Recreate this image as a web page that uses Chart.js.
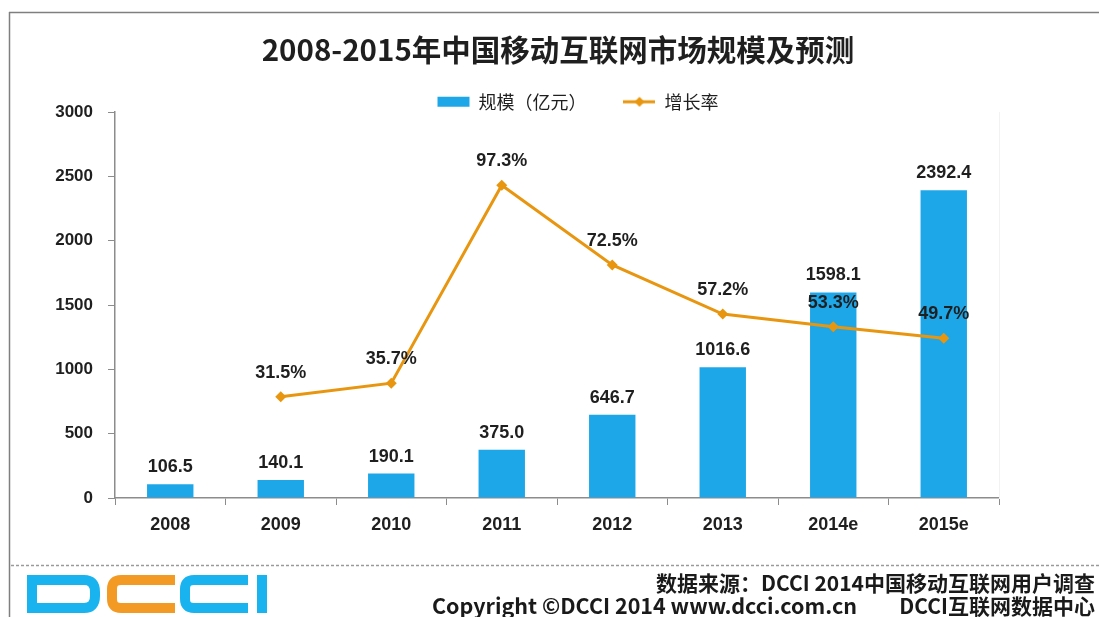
<!DOCTYPE html>
<html><head><meta charset="utf-8">
<script src="https://cdn.jsdelivr.net/npm/chart.js@4.4.1/dist/chart.umd.min.js"></script>
<style>
html,body{margin:0;padding:0;background:#fff;}
#wrap{position:relative;width:1099px;height:617px;overflow:hidden;background:#fff;}
#c{position:absolute;left:0;top:0;}
.deco{position:absolute;left:0;top:0;}
.foot{position:absolute;font-family:"Noto Sans CJK SC","Noto Sans",sans-serif;font-weight:bold;font-size:21px;color:#1a1a1a;white-space:nowrap;line-height:24px;}
</style></head>
<body><div id="wrap">
<svg class="deco" width="1099" height="617">
 <line x1="9" y1="12.5" x2="1099" y2="12.5" stroke="#7f7f7f" stroke-width="1.5"/>
 <line x1="9.5" y1="12" x2="9.5" y2="617" stroke="#7f7f7f" stroke-width="1.5"/>
 <line x1="11" y1="565.5" x2="1099" y2="565.5" stroke="#9a9a9a" stroke-width="1.5" stroke-dasharray="3,2"/>
 <g fill="none" stroke-width="10">
  <path d="M32,580 H84 Q95,580 95,592 V596 Q95,608 84,608 H32 Z" stroke="#19b4ef"/>
  <path d="M175,580 H121 Q112,580 112,589 V599 Q112,608 121,608 H175" stroke="#f39a25"/>
  <path d="M248,580 H194 Q185,580 185,589 V599 Q185,608 194,608 H248" stroke="#19b4ef"/>
 </g>
 <rect x="257" y="575" width="10" height="38" fill="#19b4ef"/>
</svg>
<canvas id="c" width="1099" height="617"></canvas>
<div class="foot" style="right:4px;top:570px;">数据来源：DCCI 2014中国移动互联网用户调查</div>
<div class="foot" style="left:432px;top:593px;font-size:21.5px;">Copyright ©DCCI 2014 www.dcci.com.cn</div>
<div class="foot" style="right:4px;top:593px;">DCCI互联网数据中心</div>
</div>
<script>
const categories = ['2008','2009','2010','2011','2012','2013','2014e','2015e'];
const marketSize = [106.5,140.1,190.1,375.0,646.7,1016.6,1598.1,2392.4];
const growthRate = [null,31.5,35.7,97.3,72.5,57.2,53.3,49.7];
const sizeTicks = [0,500,1000,1500,2000,2500,3000];
const titleText = '2008-2015年中国移动互联网市场规模及预测';
const seriesNames = ['规模（亿元）','增长率'];

const BLUE = '#1ea7e8';
const ORANGE = '#e8960f';
const TEXT = '#1f1f1f';
const NUMFONT = '"Liberation Sans", Arial, sans-serif';
const CJKFONT = '"Noto Sans CJK SC", "Noto Sans", sans-serif';

// legend icon for the line series (line with diamond)
const icon = document.createElement('canvas');
icon.width = 32; icon.height = 12;
(function(){
  const g = icon.getContext('2d');
  g.strokeStyle = ORANGE; g.lineWidth = 3;
  g.beginPath(); g.moveTo(0,6); g.lineTo(32,6); g.stroke();
  g.fillStyle = ORANGE;
  g.beginPath(); g.moveTo(16,1); g.lineTo(21,6); g.lineTo(16,11); g.lineTo(11,6); g.closePath(); g.fill();
})();

const valueLabels = {
  id: 'valueLabels',
  afterDatasetsDraw(chart) {
    const ctx = chart.ctx;
    ctx.save();
    ctx.font = 'bold 18px ' + NUMFONT;
    ctx.fillStyle = TEXT;
    ctx.textAlign = 'center';
    ctx.textBaseline = 'middle';
    chart.getDatasetMeta(0).data.forEach((el, i) => {
      ctx.fillText(marketSize[i].toFixed(1), el.x, el.y - 17);
    });
    chart.getDatasetMeta(1).data.forEach((el, i) => {
      if (growthRate[i] == null) return;
      ctx.fillText(growthRate[i].toFixed(1) + '%', el.x, el.y - 24);
    });
    ctx.restore();
  }
};

const legendShift = {
  id: 'legendShift',
  afterLayout(chart) {
    const l = chart.legend;
    if (l) { l.left += 20; l.right += 20; }
  }
};

new Chart(document.getElementById('c'), {
  data: {
    labels: categories,
    datasets: [
      {
        type: 'bar', label: seriesNames[0], data: marketSize, yAxisID: 'y',
        backgroundColor: BLUE, borderWidth: 0, order: 1,
        barPercentage: 0.42, categoryPercentage: 1.0
      },
      {
        type: 'line', label: seriesNames[1], data: growthRate, yAxisID: 'y1',
        borderColor: ORANGE, backgroundColor: ORANGE, borderWidth: 3, tension: 0,
        pointStyle: 'rectRot', pointRadius: 5.5, pointBackgroundColor: ORANGE,
        pointBorderWidth: 0, order: 0, spanGaps: false
      }
    ]
  },
  options: {
    responsive: false,
    animation: false,
    events: [],
    layout: { padding: { left: 17, right: 0, top: 0, bottom: 79 } },
    plugins: {
      tooltip: { enabled: false },
      title: {
        display: true, text: titleText, color: TEXT,
        font: { size: 29.5, weight: 'bold', family: CJKFONT, lineHeight: 0.4 },
        padding: { top: 44, bottom: 0 }
      },
      legend: {
        display: true, position: 'top', maxHeight: 56.4,
        labels: {
          color: TEXT,
          font: { size: 18, family: CJKFONT },
          padding: 37, usePointStyle: true, pointStyleWidth: 32, boxHeight: 10,
          sort: (a, b) => a.datasetIndex - b.datasetIndex,
          generateLabels(chart) {
            const items = Chart.defaults.plugins.legend.labels.generateLabels(chart);
            items.forEach(it => {
              if (it.datasetIndex === 0) { it.pointStyle = 'rect'; it.fillStyle = BLUE; it.lineWidth = 0; }
              else { it.pointStyle = icon; }
            });
            return items;
          }
        }
      }
    },
    scales: {
      x: {
        offset: true,
        grid: { display: true, drawOnChartArea: false, drawTicks: true, tickLength: 7, color: '#8c8c8c', offset: true },
        border: { display: true, color: '#8c8c8c', width: 1.5 },
        ticks: { color: TEXT, font: { size: 18, weight: 'bold', family: NUMFONT }, padding: 9, maxRotation: 0 },
        afterFit(s) { s.height = 40; }
      },
      y: {
        position: 'left', min: 0, max: 3000,
        afterBuildTicks(s) { s.ticks = sizeTicks.map(v => ({ value: v })); },
        grid: { display: true, drawOnChartArea: false, drawTicks: true, tickLength: 7, color: '#8c8c8c' },
        border: { display: true, color: '#8c8c8c', width: 1.5 },
        ticks: { color: TEXT, font: { size: 17, weight: 'bold', family: NUMFONT }, padding: 15,
                 callback: (v) => String(v) },
        afterFit(s) { s.width = 98; }
      },
      y1: {
        position: 'right', min: 0, max: 120,
        grid: { display: false, drawTicks: false },
        border: { display: true, color: '#f2f2f2' },
        ticks: { display: false },
        afterFit(s) { s.width = 100; }
      }
    }
  },
  plugins: [valueLabels, legendShift]
});
</script>
</body></html>
